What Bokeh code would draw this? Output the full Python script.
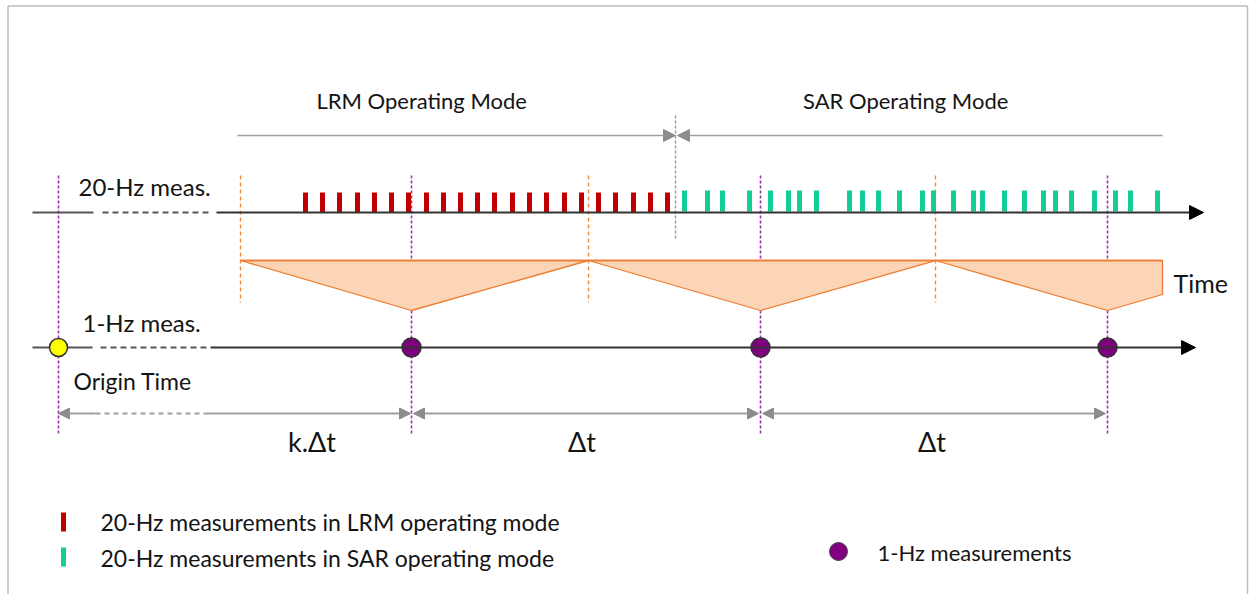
from bokeh.plotting import figure
from bokeh.models import Range1d, Arrow, NormalHead
from bokeh.core.properties import value
from bokeh.embed import file_html
from bokeh.resources import INLINE

# ---- data (time positions along the diagram's time axis) ----
lrm_times = [305, 322, 339, 357, 374, 391, 408, 426, 443, 460, 477, 494, 512,
             529, 546, 564, 581, 598, 615, 633, 650, 667]
sar_times = [684, 707, 722, 749, 770, 788, 799, 816, 849, 862, 878, 899, 922,
             933, 953, 973, 982, 1004, 1024, 1043, 1055, 1071, 1094, 1115, 1130, 1157]
one_hz_times = [411, 760, 1107]
origin_time = [58]
window_edges = [240, 588, 935]
window_end = 1162
mode_switch = 675
mode_titles = ["LRM Operating  Mode", "SAR Operating  Mode"]
interval_labels = ["k.\u0394t", "\u0394t", "\u0394t"]
legend_labels = ["20-Hz measurements  in LRM operating  mode",
                 "20-Hz measurements  in SAR operating  mode"]
legend_dot_label = ["1-Hz measurements"]

FONT = value("Lato")
TXT = "#141414"
RED = "#C00000"
GREEN = "#14CC96"
PURPLE = "#800080"
VLINE = "#A030B0"
ORANGE = "#ED7D31"
ORANGE_FILL = "#FBD5B5"
GRAY = "#A0A0A0"

W, H = 1249, 594
p = figure(width=W, height=H, x_range=Range1d(0, W), y_range=Range1d(H, 0),
           output_backend="svg", toolbar_location=None, min_border=0,
           x_axis_location=None, y_axis_location=None)
p.grid.grid_line_color = None
p.outline_line_color = None
p.background_fill_color = "white"

# frame
p.segment(x0=[7.5, 7.5, 1247], y0=[5.5, 5.5, 5.5], x1=[7.5, 1247, 1247], y1=[594, 5.5, 594],
          line_color="#BDBDBD", line_width=1.5)

# vertical dashed guide lines
guide_x = origin_time + one_hz_times
p.segment(x0=guide_x, y0=[175] * 4, x1=guide_x, y1=[433] * 4,
          line_color=VLINE, line_width=1.6, line_dash="3 2")
p.segment(x0=window_edges, y0=[175] * 3, x1=window_edges, y1=[302] * 3,
          line_color="#F08A3C", line_width=1.4, line_dash="4 3")
p.segment(x0=[mode_switch], y0=[115], x1=[mode_switch], y1=[240],
          line_color="#9A9A9A", line_width=1.4, line_dash="3 2")

# mode arrows
p.add_layout(Arrow(end=NormalHead(size=12, fill_color="#8C8C8C", line_color="#8C8C8C"),
                   x_start=237, y_start=135, x_end=mode_switch, y_end=135,
                   line_color=GRAY, line_width=1.5))
p.add_layout(Arrow(end=NormalHead(size=12, fill_color="#8C8C8C", line_color="#8C8C8C"),
                   x_start=window_end, y_start=135, x_end=mode_switch + 2, y_end=135,
                   line_color=GRAY, line_width=1.5))
p.text(x=[424, 908], y=[100, 100], text=mode_titles, text_font=FONT, text_font_size="22px",
       text_color=TXT, text_align="center", text_baseline="middle")

# 20-Hz timeline
p.segment(x0=[32], y0=[212], x1=[93], y1=[212], line_color="#555555", line_width=2)
p.segment(x0=[102], y0=[212], x1=[208], y1=[212], line_color="#555555", line_width=2,
          line_dash="6 4")
p.add_layout(Arrow(end=NormalHead(size=14, fill_color="black", line_color="black"),
                   x_start=216, y_start=212, x_end=1203, y_end=212,
                   line_color="#333333", line_width=2))
p.vbar(x=lrm_times, top=192, bottom=212, width=5, fill_color=RED, line_color=None)
p.vbar(x=sar_times, top=190, bottom=211, width=5, fill_color=GREEN, line_color=None)
p.text(x=[78], y=[186], text=["20-Hz meas."], text_font=FONT, text_font_size="24px",
       text_color=TXT, text_baseline="middle")

# sawtooth windows
xs, ys = [], []
edges = window_edges + [window_end]
for i, m in enumerate(one_hz_times):
    a, b = edges[i], edges[i + 1]
    if i < len(window_edges) - 1:
        xs.append([a, m, b])
        ys.append([260, 310, 260])
    else:
        xs.append([a, m, b, b])
        ys.append([260, 310, 294, 260])
p.patches(xs=xs, ys=ys, fill_color=ORANGE_FILL, line_color=ORANGE, line_width=1.3)
p.segment(x0=[window_edges[0]], y0=[260], x1=[window_end], y1=[260],
          line_color=ORANGE, line_width=1.5)
p.text(x=[1173], y=[282], text=["Time"], text_font=FONT, text_font_size="25px",
       text_color=TXT, text_baseline="middle")

# 1-Hz timeline
p.segment(x0=[32], y0=[347], x1=[92], y1=[347], line_color="#555555", line_width=2)
p.segment(x0=[100], y0=[347], x1=[208], y1=[347], line_color="#555555", line_width=2,
          line_dash="6 4")
p.add_layout(Arrow(end=NormalHead(size=14, fill_color="black", line_color="black"),
                   x_start=210, y_start=347, x_end=1195, y_end=347,
                   line_color="#333333", line_width=2))
p.scatter(x=origin_time, y=[347], size=18, fill_color="#FFFF00", line_color="#333333",
          line_width=1.5)
p.scatter(x=one_hz_times, y=[347] * 3, size=19, fill_color=PURPLE, line_color="#333333",
          line_width=1.5)
p.text(x=[82], y=[322], text=["1-Hz meas."], text_font=FONT, text_font_size="24px",
       text_color=TXT, text_baseline="middle")
p.text(x=[73], y=[380], text=["Origin Time"], text_font=FONT, text_font_size="23px",
       text_color=TXT, text_baseline="middle")

# interval dimension arrows
hd = dict(size=11, fill_color="#8C8C8C", line_color="#8C8C8C")
p.add_layout(Arrow(end=NormalHead(**hd), x_start=95, y_start=413, x_end=origin_time[0],
                   y_end=413, line_color=GRAY, line_width=2))
p.segment(x0=[95], y0=[413], x1=[205], y1=[413], line_color=GRAY, line_width=2,
          line_dash="5 4")
p.add_layout(Arrow(end=NormalHead(**hd), x_start=205, y_start=413, x_end=one_hz_times[0] - 1,
                   y_end=413, line_color=GRAY, line_width=2))
for a, b in zip(one_hz_times[:-1], one_hz_times[1:]):
    p.add_layout(Arrow(start=NormalHead(**hd), end=NormalHead(**hd),
                       x_start=a + 2, y_start=413, x_end=b - 2, y_end=413,
                       line_color=GRAY, line_width=2))
lbl_x = [(origin_time[0] + one_hz_times[0]) / 2 + 77,
         (one_hz_times[0] + one_hz_times[1]) / 2 - 4,
         (one_hz_times[1] + one_hz_times[2]) / 2 - 2]
p.text(x=lbl_x, y=[441] * 3, text=interval_labels, text_font=FONT, text_font_size="27px",
       text_color=TXT, text_align="center", text_baseline="middle")

# legend
p.vbar(x=[63], top=[512], bottom=[531], width=5, fill_color=RED, line_color=None)
p.vbar(x=[63], top=[547], bottom=[566], width=5, fill_color=GREEN, line_color=None)
p.scatter(x=[838], y=[551], size=18, fill_color=PURPLE, line_color="#444444", line_width=1)
p.text(x=[100, 100], y=[521, 557], text=legend_labels, text_font=FONT,
       text_font_size="23px", text_color=TXT, text_baseline="middle")
p.text(x=[877], y=[552], text=legend_dot_label, text_font=FONT,
       text_font_size="22px", text_color=TXT, text_baseline="middle")

open("out.html", "w").write(file_html(p, INLINE))
